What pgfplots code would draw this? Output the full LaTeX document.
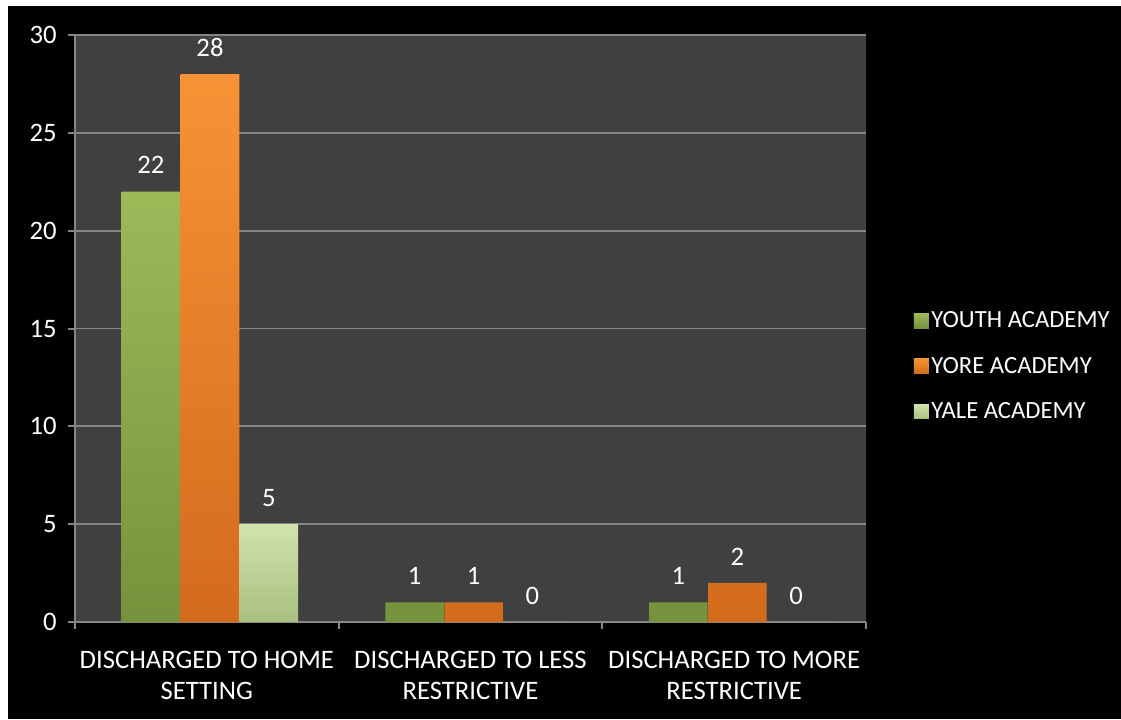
\documentclass[border=0pt]{standalone}
\usepackage{fontspec}
\setmainfont{Carlito}
\usepackage{pgfplots}
\pgfplotsset{compat=1.18}
\definecolor{plotbg}{HTML}{404040}
\definecolor{axisgray}{HTML}{868686}
\definecolor{gridgray}{HTML}{858585}
\definecolor{gtop}{HTML}{9BBB59}
\definecolor{gbot}{HTML}{76923C}
\definecolor{otop}{HTML}{F79335}
\definecolor{obot}{HTML}{D36B1C}
\definecolor{ltop}{HTML}{D2E2AE}
\definecolor{lbot}{HTML}{A8C07F}
\begin{document}
\begin{tikzpicture}
\useasboundingbox (0,0) rectangle (840.75pt,-539.25pt);
\fill[white] (0,0) rectangle (840.75pt,-539.25pt);
\fill[black] (6pt,-4.5pt) rectangle (840.75pt,-539.25pt);
\begin{axis}[
  at={(56.25pt,-466.5pt)}, anchor=south west,
  width=593.25pt, height=440.25pt, scale only axis,
  xmin=-0.5, xmax=2.5, ymin=0, ymax=30,
  ytick={0,5,...,30},
  xtick={0,1,2},
  xticklabels={{DISCHARGED TO HOME\\SETTING},{DISCHARGED TO LESS\\RESTRICTIVE},{DISCHARGED TO MORE\\RESTRICTIVE}},
  xticklabel style={align=center, yshift=-13pt},
  major x tick style={draw=none},
  minor xtick={-0.5,0.5,1.5,2.5},
  tick align=outside,
  major tick length=5.25pt, minor tick length=5.25pt,
  tick style={draw=axisgray, line width=1.5pt},
  axis x line*=bottom, axis y line*=left,
  axis line style={draw=axisgray, line width=1.5pt, -},
  ymajorgrids, grid style={draw=gridgray, line width=1.4pt},
  axis background/.style={fill=plotbg},
  ybar, bar width=0.222,
  nodes near coords,
  nodes near coords style={text=white, font=\fontsize{20}{24}\selectfont, anchor=south, inner sep=0pt, yshift=13pt},
  ticklabel style={text=white, font=\fontsize{20}{23}\selectfont},
  yticklabel style={xshift=-5pt},
  /pgf/number format/assume math mode=true,
  legend image code/.code={\fill[#1] (0pt,-5.6pt) rectangle (11.25pt,5.6pt);},
  legend style={at={(1.055,0.538)}, anchor=north west, draw=none, fill=none,
    text=white, font=\fontsize{18.5}{22}\selectfont, row sep=16.5pt,
    /tikz/every even column/.append style={column sep=2pt}},
  legend cell align=left,
]
\addplot[draw=none, top color=gtop, bottom color=gbot, bar shift=-0.212] coordinates {(0,22) (1,1) (2,1)};
\addplot[draw=none, top color=otop, bottom color=obot, bar shift=0.012] coordinates {(0,28) (1,1) (2,2)};
\addplot[draw=none, top color=ltop, bottom color=lbot, bar shift=0.235] coordinates {(0,5) (1,0) (2,0)};
\legend{YOUTH ACADEMY, YORE ACADEMY, YALE ACADEMY}
\end{axis}
\end{tikzpicture}
\end{document}
